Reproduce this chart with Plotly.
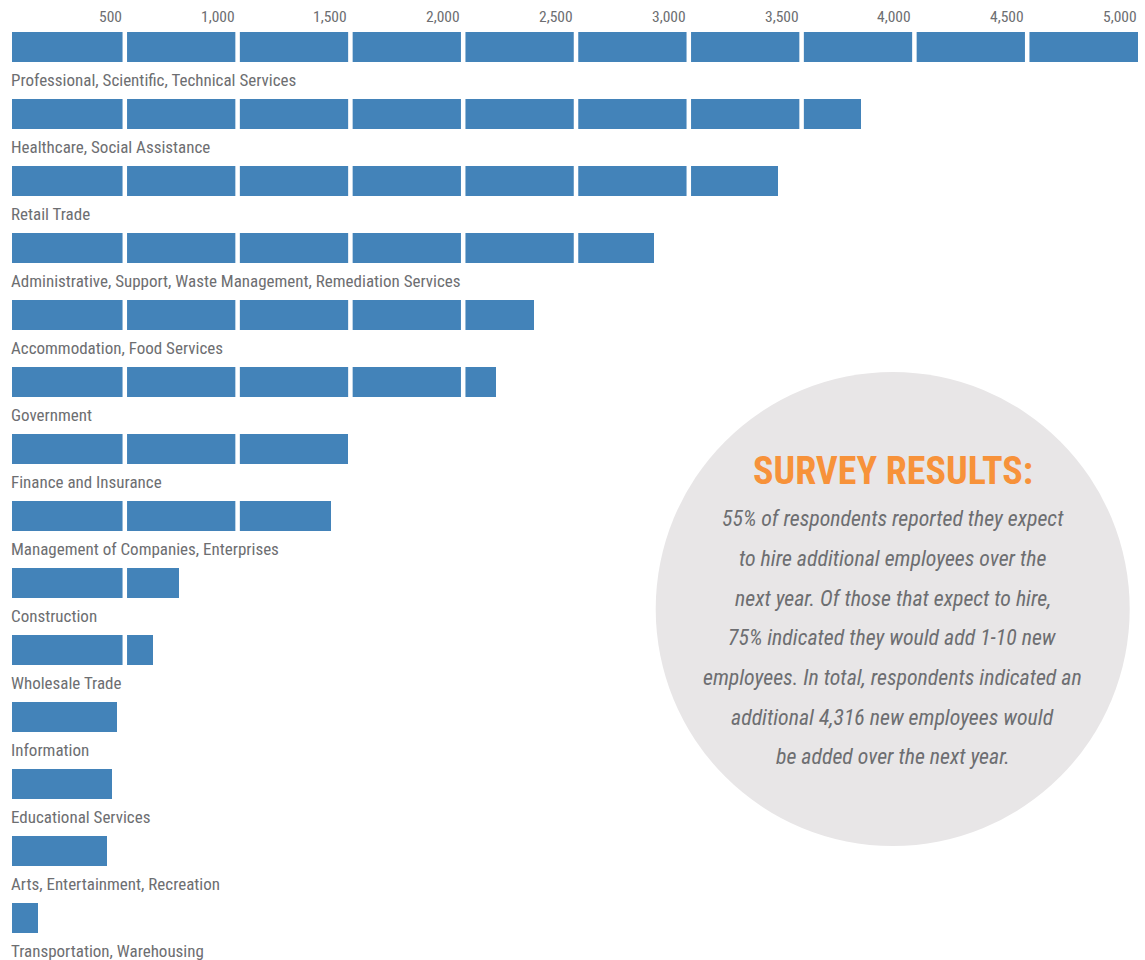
import plotly.graph_objects as go

categories = [
    "Professional, Scientific, Technical Services",
    "Healthcare, Social Assistance",
    "Retail Trade",
    "Administrative, Support, Waste Management, Remediation Services",
    "Accommodation, Food Services",
    "Government",
    "Finance and Insurance",
    "Management of Companies, Enterprises",
    "Construction",
    "Wholesale Trade",
    "Information",
    "Educational Services",
    "Arts, Entertainment, Recreation",
    "Transportation, Warehousing",
]
values = [4990, 3765, 3395, 2845, 2312, 2145, 1490, 1412, 740, 626, 464, 442, 420, 114]

tick_values = [500, 1000, 1500, 2000, 2500, 3000, 3500, 4000, 4500, 5000]
tick_labels = ["500", "1,000", "1,500", "2,000", "2,500", "3,000", "3,500", "4,000", "4,500", "5,000"]

survey_title = "SURVEY RESULTS:"
survey_lines = [
    "55% of respondents reported they expect",
    "to hire additional employees over the",
    "next year. Of those that expect to hire,",
    "75% indicated they would add 1-10 new",
    "employees. In total, respondents indicated an",
    "additional 4,316 new employees would",
    "be added over the next year.",
]

W, H = 1145, 960
ML, MR = 12, 5
BLUE = "#4383b9"
GRAY = "#6d6e71"
FONT = "Roboto Condensed, Liberation Sans Narrow, DejaVu Sans Condensed, sans-serif"

rows = list(range(len(categories)))
pitch = 66.97
y_top = -47 / pitch
y_bot = (H - 47) / pitch

fig = go.Figure()
fig.add_trace(go.Bar(
    x=values, y=rows, orientation="h",
    marker=dict(color=BLUE, line=dict(width=0)),
    width=30 / pitch,
    hovertext=categories, hoverinfo="text+x",
))

shapes = []
# white separators every 500 units
for t in tick_values[:-1]:
    shapes.append(dict(type="line", xref="x", yref="paper", x0=t, x1=t, y0=0, y1=1,
                       line=dict(color="white", width=4.5), layer="above"))
cx_paper = (892.7 - ML) / (W - ML - MR)
# survey circle
shapes.append(dict(type="circle", xref="paper", yref="paper",
                   xsizemode="pixel", ysizemode="pixel",
                   xanchor=cx_paper, yanchor=(H - 609) / H,
                   x0=-237, x1=237, y0=-237, y1=237,
                   fillcolor="#e8e6e7", line=dict(width=0), layer="above"))

annotations = []
for i, c in enumerate(categories):
    annotations.append(dict(x=0, y=i, xref="paper", yref="y", text=c, showarrow=False,
                            xanchor="left", yanchor="middle", xshift=-3, yshift=-33,
                            font=dict(family=FONT, size=17, color=GRAY)))
for t, lab in zip(tick_values, tick_labels):
    annotations.append(dict(x=t, y=0, xref="x", yref="y", text=lab, showarrow=False,
                            xanchor="right", yanchor="middle", xshift=-1, yshift=30,
                            font=dict(family=FONT, size=15.5, color=GRAY)))

annotations.append(dict(x=cx_paper, y=(H - 471) / H, xref="paper", yref="paper",
                        text="<b>" + survey_title + "</b>", showarrow=False,
                        xanchor="center", yanchor="middle",
                        font=dict(family=FONT, size=38, color="#f7923a")))
line_y = [518, 558, 598, 637, 677, 717, 756]
for ly, txt in zip(line_y, survey_lines):
    annotations.append(dict(x=cx_paper, y=(H - ly) / H, xref="paper", yref="paper",
                            text="<i>" + txt + "</i>", showarrow=False,
                            xanchor="center", yanchor="middle",
                            font=dict(family=FONT, size=21.8, color=GRAY)))

fig.update_layout(
    width=W, height=H,
    margin=dict(l=ML, r=MR, t=0, b=0),
    paper_bgcolor="white", plot_bgcolor="white",
    showlegend=False,
    xaxis=dict(range=[0, 5000], showgrid=False, zeroline=False, showticklabels=False,
               ticks="", showline=False, fixedrange=True),
    yaxis=dict(range=[y_bot, y_top], showgrid=False, zeroline=False, showticklabels=False,
               ticks="", showline=False, fixedrange=True),
    shapes=shapes,
    annotations=annotations,
    bargap=0,
)

fig.write_html("out.html", config={"displayModeBar": False},
               post_script="document.body.style.margin='0';document.body.style.overflow='hidden';")
